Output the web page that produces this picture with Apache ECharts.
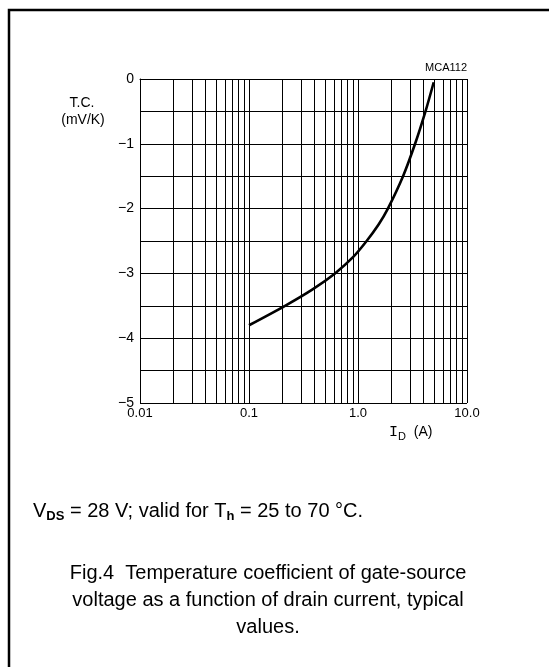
<!DOCTYPE html>
<html>
<head>
<meta charset="utf-8">
<script src="https://cdn.jsdelivr.net/npm/echarts@6/dist/echarts.min.js"></script>
<style>
  html, body { margin: 0; padding: 0; background: #fff; }
  #chart { width: 549px; height: 667px; }
</style>
</head>
<body>
<div id="chart"></div>
<script>
// Typical temperature coefficient of V_GS versus drain current
const drainCurrent = [0.1, 0.214, 0.38, 0.615, 0.9, 1.2, 1.54, 1.88, 2.59, 3.34, 4.16, 4.95]; // A
const tempCoeff    = [-3.8, -3.5, -3.25, -3.0, -2.75, -2.5, -2.25, -2.0, -1.5, -1.0, -0.5, -0.05]; // mV/K

const xTickLabels = { '0.01': '0.01', '0.1': '0.1', '1': '1.0', '10': '10.0' };
const decadeStarts = [0.01, 0.1, 1];
const decadeSteps = [2, 3, 4, 5, 6, 7, 8, 9];

// intermediate log-grid lines (2..9 within each decade)
const minorGridX = decadeStarts.flatMap(d => decadeSteps.map(m => +(d * m).toPrecision(3)));

const FONT = '"Liberation Sans", Arial, Helvetica, sans-serif';
const MONO = '"Liberation Mono", "Courier New", monospace';
const INK = '#000';

const chart = echarts.init(document.getElementById('chart'), null, { renderer: 'canvas' });

chart.setOption({
  animation: false,
  backgroundColor: '#fff',
  grid: { left: 140, top: 79, right: 82, bottom: 264, containLabel: false },
  xAxis: {
    type: 'log',
    logBase: 10,
    min: 0.01,
    max: 10,
    axisLine: { show: true, lineStyle: { color: INK, width: 1 } },
    axisTick: { show: false },
    splitLine: { show: true, lineStyle: { color: INK, width: 1 } },
    axisLabel: {
      margin: 4,
      fontFamily: FONT,
      fontSize: 13,
      color: INK,
      formatter: v => xTickLabels[String(+v.toPrecision(3))] || ''
    }
  },
  yAxis: {
    type: 'value',
    min: -5,
    max: 0,
    interval: 1,
    axisLine: { show: true, lineStyle: { color: INK, width: 1 } },
    axisTick: { show: false },
    minorTick: { show: false, splitNumber: 2 },
    splitLine: { show: true, lineStyle: { color: INK, width: 1 } },
    minorSplitLine: { show: true, lineStyle: { color: INK, width: 1 } },
    axisLabel: {
      margin: 6,
      fontFamily: FONT,
      fontSize: 14,
      color: INK,
      formatter: v => String(v).replace('-', '\u2212')
    }
  },
  series: [{
    type: 'line',
    data: drainCurrent.map((x, i) => [x, tempCoeff[i]]),
    smooth: 0.3,
    showSymbol: false,
    lineStyle: { color: INK, width: 2.6 },
    z: 5,
    markLine: {
      silent: true,
      symbol: 'none',
      label: { show: false },
      lineStyle: { color: INK, width: 1, type: 'solid' },
      data: minorGridX.map(v => ({ xAxis: v })),
      z: 1
    }
  }],
  graphic: [
    // page frame
    {
      type: 'polyline',
      shape: { points: [[9, 667], [9, 10], [549, 10]] },
      style: { stroke: INK, lineWidth: 2.5, fill: null }
    },
    {
      type: 'text', x: 82, y: 103,
      style: { text: 'T.C.', font: '14px ' + FONT, fill: INK, textAlign: 'center', textVerticalAlign: 'middle' }
    },
    {
      type: 'text', x: 83, y: 120,
      style: { text: '(mV/K)', font: '14px ' + FONT, fill: INK, textAlign: 'center', textVerticalAlign: 'middle' }
    },
    {
      type: 'text', x: 467, y: 68,
      style: { text: 'MCA112', font: '11px ' + FONT, fill: INK, textAlign: 'right', textVerticalAlign: 'middle' }
    },
    {
      type: 'text', x: 389, y: 434,
      style: {
        text: '{i|I}{s|D}{m|  (A)}',
        textVerticalAlign: 'middle',
        rich: {
          i: { fontFamily: MONO, fontSize: 15, color: INK, lineHeight: 18, verticalAlign: 'top' },
          s: { fontFamily: FONT, fontSize: 11, color: INK, lineHeight: 18, padding: [6, 0, 0, 0], verticalAlign: 'top' },
          m: { fontFamily: FONT, fontSize: 14, color: INK, lineHeight: 18, verticalAlign: 'top' }
        }
      }
    },
    {
      type: 'text', x: 33, y: 514,
      style: {
        text: '{m|V}{s|DS}{m| = 28 V; valid for T}{s|h}{m| = 25 to 70 \u00B0C.}',
        textVerticalAlign: 'middle',
        rich: {
          m: { fontFamily: FONT, fontSize: 20, color: INK, lineHeight: 26, verticalAlign: 'top' },
          s: { fontFamily: FONT, fontSize: 13, fontWeight: 'bold', color: INK, lineHeight: 26, padding: [9, 0, 0, 0], verticalAlign: 'top' }
        }
      }
    },
    {
      type: 'text', x: 268, y: 600,
      style: {
        text: 'Fig.4  Temperature coefficient of gate-source\nvoltage as a function of drain current, typical\nvalues.',
        font: '20px ' + FONT,
        lineHeight: 27,
        fill: INK,
        textAlign: 'center',
        textVerticalAlign: 'middle'
      }
    }
  ]
});
</script>
</body>
</html>
